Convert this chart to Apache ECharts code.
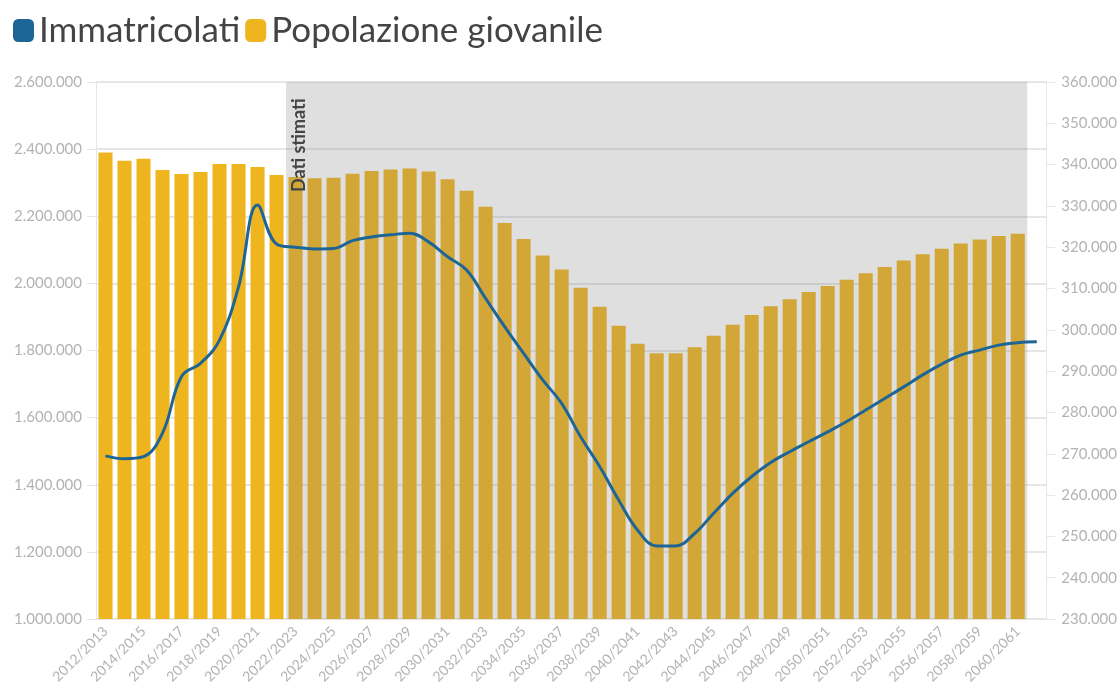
<html>
<head>
  <meta charset="utf-8">
  <title>Immatricolati e popolazione giovanile</title>
  <script src="https://cdn.jsdelivr.net/npm/echarts@6/dist/echarts.min.js"></script>
</head>
<body style="margin:0;background:#fff;">
<div id="main" style="width:1120px;height:699px;"></div>
<script>
  // anni accademici 2012/2013 ... 2061/2062
  var anni = [];
  for (var y = 2012; y <= 2061; y++) anni.push(y + '/' + (y + 1));

  // popolazione giovanile (asse sinistro) - ultimo anno senza dato
  var popolazione = [
    2390000, 2365000, 2371000, 2338000, 2326000, 2332000, 2356000, 2356000, 2347000, 2323000,
    2317000, 2313000, 2315000, 2327000, 2335000, 2339000, 2342000, 2333000, 2310000, 2276000,
    2228000, 2180000, 2132000, 2083000, 2041000, 1987000, 1930000, 1874000, 1820000, 1792000,
    1792000, 1810000, 1844000, 1877000, 1906000, 1932000, 1953000, 1974000, 1992000, 2011000,
    2030000, 2049000, 2068000, 2087000, 2103000, 2119000, 2131000, 2141000, 2148000
  ];

  // immatricolati (asse destro)
  var immatricolati = [
    269500, 268800, 269300, 275000, 288700, 291900, 297500, 310400, 330200, 320800,
    320000, 319600, 319700, 321600, 322500, 323000, 323400, 321300, 317700, 314500,
    307600, 300800, 294300, 287900, 282200, 274100, 266900, 258800, 251500, 247700,
    247700, 250700, 255600, 260400, 264500, 267900, 270500, 272900, 275300, 277800,
    280600, 283400, 286200, 289100, 291700, 293900, 295100, 296300, 296900, 297100
  ];

  // periodo con dati stimati (bande intere delle categorie)
  var inizioStime = '2022/2023';
  var fineStime = '2060/2061';

  function punti(v) {
    return String(v).replace(/\B(?=(\d{3})+(?!\d))/g, '.');
  }

  var grigio = '#e6e6e6';
  var font = 'Lato';

  var myChart = echarts.init(document.getElementById('main'));
  var option = {
    animation: false,
    textStyle: { fontFamily: font },
    legend: {
      left: 8,
      top: 8,
      icon: 'roundRect',
      itemWidth: 21,
      itemHeight: 23,
      itemGap: 5,
      textStyle: { fontSize: 35, color: '#444', fontFamily: font },
      data: ['Immatricolati', 'Popolazione giovanile']
    },
    grid: { left: 96, right: 70, top: 82, bottom: 80 },
    xAxis: [
      {
        type: 'category',
        data: anni,
        boundaryGap: true,
        axisLine: { lineStyle: { color: grigio } },
        axisTick: { alignWithLabel: true, interval: 0, length: 7, lineStyle: { color: grigio } },
        axisLabel: { interval: 1, rotate: 45, color: '#b3b3b3', fontSize: 14, margin: 10 }
      },
      {
        // asse nascosto: indice di banda, serve solo per l'area "Dati stimati"
        type: 'value',
        show: false,
        min: 0,
        max: anni.length
      }
    ],
    yAxis: [
      {
        type: 'value',
        min: 1000000,
        max: 2600000,
        interval: 200000,
        axisLine: { show: true, lineStyle: { color: grigio } },
        axisTick: { show: true, length: 9, lineStyle: { color: grigio } },
        splitLine: { lineStyle: { color: grigio, width: 2 } },
        axisLabel: { color: '#b3b3b3', fontSize: 15, margin: 14, formatter: punti }
      },
      {
        type: 'value',
        min: 230000,
        max: 360000,
        interval: 10000,
        position: 'right',
        axisLine: { show: true, lineStyle: { color: grigio } },
        axisTick: { show: true, length: 9, lineStyle: { color: grigio } },
        splitLine: { show: false },
        axisLabel: { color: '#b3b3b3', fontSize: 15, margin: 15, formatter: punti }
      }
    ],
    series: [
      {
        name: 'Immatricolati',
        type: 'line',
        yAxisIndex: 1,
        data: immatricolati,
        smooth: 0.4,
        showSymbol: false,
        symbol: 'none',
        z: 5,
        itemStyle: { color: '#1d6596' },
        lineStyle: { color: '#1d6596', width: 3 }
      },
      {
        name: 'Popolazione giovanile',
        type: 'bar',
        yAxisIndex: 0,
        data: popolazione,
        barCategoryGap: '26%',
        itemStyle: { color: '#eeb51f' }
      },
      {
        name: 'stime',
        type: 'line',
        xAxisIndex: 1,
        yAxisIndex: 0,
        data: [],
        silent: true,
        markArea: {
          z: 3,
          silent: true,
          itemStyle: { color: 'rgba(128,128,128,0.25)' },
          label: {
            show: true,
            position: [4, 110],
            align: 'left',
            verticalAlign: 'top',
            rotate: 90,
            color: '#444',
            fontWeight: 'bold',
            fontSize: 18,
            fontFamily: font
          },
          data: [[
            { name: 'Dati stimati', xAxis: anni.indexOf(inizioStime) },
            { xAxis: anni.indexOf(fineStime) + 1 }
          ]]
        }
      }
    ]
  };

  myChart.setOption(option);
</script>
</body>
</html>
